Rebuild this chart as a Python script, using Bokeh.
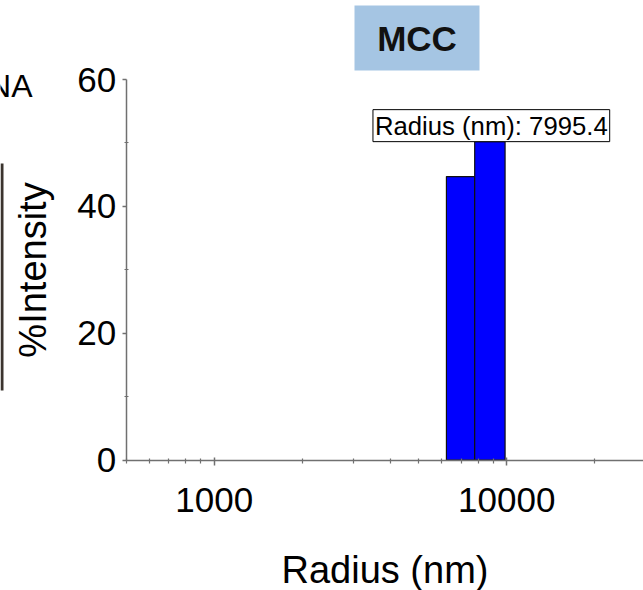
from bokeh.plotting import figure
from bokeh.models import (Range1d, FixedTicker, Label, BoxAnnotation, ColumnDataSource,
                          PrintfTickFormatter)
from bokeh.embed import file_html
from bokeh.resources import INLINE

# ---- data ----
bin_left = [6220, 7770]
bin_right = [7770, 9870]
intensity = [44.7, 50.2]
peak_radius = 7995.4
y_ticks = [0, 20, 40, 60]
y_minor = [10, 30, 50]
x_ticks = [1000, 10000]
x_minor = [500, 600, 700, 800, 900, 2000, 3000, 4000, 5000, 6000, 7000, 8000, 9000,
           20000, 30000, 40000, 50000]
x_bounds = (500, 50000)
y_bounds = (0, 60)
title_text = "MCC"
side_text = "NA"
x_label = "Radius (nm)"
y_label = "%Intensity"

FONT = "Liberation Sans"
W, H = 643, 590

# frame covers the whole canvas; axes are drawn at fixed locations inside it
x_lo = 2.699 - 125.7 / 292.5
x_hi = 2.699 + (W - 125.7) / 292.5
px_per_unit = (459.5 - 79) / 60.0
y_lo = -(H - 459.5) / px_per_unit
y_hi = 60 + 79 / px_per_unit

p = figure(width=W, height=H, x_axis_type="log",
           x_range=Range1d(10 ** x_lo, 10 ** x_hi), y_range=Range1d(y_lo, y_hi),
           output_backend="svg", toolbar_location=None,
           min_border_left=0, min_border_right=0, min_border_top=0, min_border_bottom=0)
p.outline_line_color = None
p.xgrid.visible = False
p.ygrid.visible = False
p.background_fill_color = "white"
p.border_fill_color = "white"

src = ColumnDataSource(dict(left=bin_left, right=bin_right, top=intensity))
p.quad(left="left", right="right", top="top", bottom=0, source=src,
       fill_color="#0000ff", line_color="#111111", line_width=1.2)

for ax in (p.xaxis[0], p.yaxis[0]):
    ax.axis_line_color = "#707070"
    ax.axis_line_width = 1.5
    ax.major_tick_line_color = "#707070"
    ax.minor_tick_line_color = "#707070"
    ax.major_tick_line_width = 1.5
    ax.minor_tick_line_width = 1.2
    ax.major_label_text_font = FONT
    ax.major_label_text_font_size = "35px"
    ax.major_label_text_color = "black"
    ax.axis_label_text_font = FONT
    ax.axis_label_text_font_size = "38px"
    ax.axis_label_text_font_style = "normal"
    ax.axis_label_text_color = "black"

xa = p.xaxis[0]
xa.ticker = FixedTicker(ticks=x_ticks, minor_ticks=x_minor)
xa.formatter = PrintfTickFormatter(format="%d")
xa.axis_label = x_label
xa.bounds = x_bounds
xa.fixed_location = y_bounds[0]
xa.major_tick_in = 3
xa.major_tick_out = 5
xa.minor_tick_in = 2
xa.minor_tick_out = 3
xa.major_label_standoff = 23
xa.axis_label_standoff = 33

ya = p.yaxis[0]
ya.ticker = FixedTicker(ticks=y_ticks, minor_ticks=y_minor)
ya.axis_label = y_label
ya.bounds = y_bounds
ya.fixed_location = x_bounds[0]
ya.major_tick_in = 0
ya.major_tick_out = 4
ya.minor_tick_in = 2
ya.minor_tick_out = 2
ya.major_label_standoff = 6
ya.axis_label_standoff = 21

# annotation of peak
p.add_layout(Label(x=peak_radius, y=intensity[1], x_offset=13, text=f"Radius (nm): {peak_radius}",
                   text_font=FONT, text_font_size="25.7px", text_align="center",
                   text_baseline="bottom", text_color="black", background_fill_color="white",
                   border_line_color="black", border_line_width=1, padding=2))

# title box (screen units: from frame bottom-left, y up)
p.add_layout(BoxAnnotation(left=354, right=479, bottom=H - 70, top=H - 5,
                           left_units="screen", right_units="screen",
                           bottom_units="screen", top_units="screen",
                           fill_color="#a5c5e3", fill_alpha=1, line_color=None))
p.add_layout(Label(x=416.5, y=H - 37.5, x_units="screen", y_units="screen", text=title_text,
                   text_font=FONT, text_font_style="bold", text_font_size="35px",
                   text_align="center", text_baseline="middle", text_color="#111111"))
# clipped text of neighbouring panel
p.add_layout(Label(x=32, y=H - 85, x_units="screen", y_units="screen", text=side_text,
                   text_font=FONT, text_font_size="32px",
                   text_align="right", text_baseline="middle", text_color="black"))
p.add_layout(BoxAnnotation(left=0, right=3, bottom=H - 390, top=H - 163,
                           left_units="screen", right_units="screen",
                           bottom_units="screen", top_units="screen",
                           fill_color="#3b342e", fill_alpha=1, line_color=None))

open("out.html", "w").write(file_html(p, INLINE))
